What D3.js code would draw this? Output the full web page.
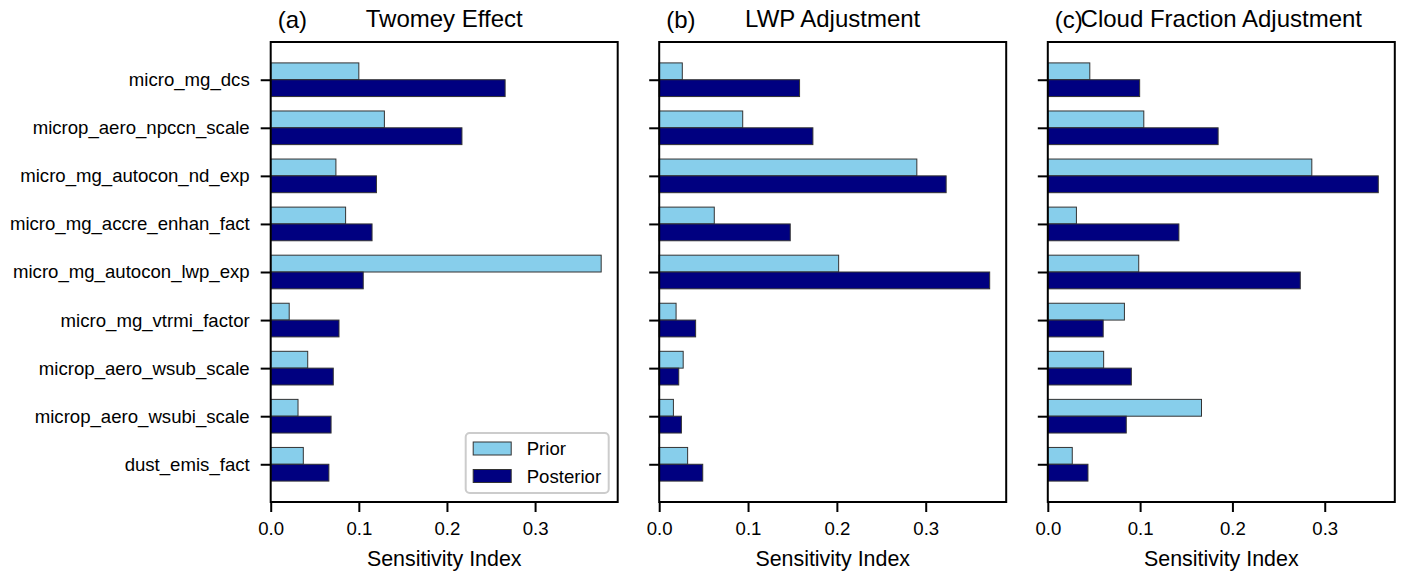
<!DOCTYPE html>
<html>
<head>
<meta charset="utf-8">
<script src="https://cdn.jsdelivr.net/npm/d3@7"></script>
<style>
  html, body { margin: 0; padding: 0; background: #fff; }
  svg { display: block; }
  text { font-family: "Liberation Sans", Arial, sans-serif; fill: #000; }
</style>
</head>
<body>
<svg id="chart" width="1403" height="572"></svg>
<script>
// ---------- data ----------
const categories = [
  "micro_mg_dcs",
  "microp_aero_npccn_scale",
  "micro_mg_autocon_nd_exp",
  "micro_mg_accre_enhan_fact",
  "micro_mg_autocon_lwp_exp",
  "micro_mg_vtrmi_factor",
  "microp_aero_wsub_scale",
  "microp_aero_wsubi_scale",
  "dust_emis_fact"
];
const seriesNames = ["Prior", "Posterior"];
const panelTags = ["(a)", "(b)", "(c)"];
const panelTitles = ["Twomey Effect", "LWP Adjustment", "Cloud Fraction Adjustment"];
const xTickValues = [0, 0.1, 0.2, 0.3];
const xLabel = "Sensitivity Index";

const twomeyPrior     = [0.100, 0.129, 0.074, 0.085, 0.375, 0.021, 0.042, 0.031, 0.037];
const twomeyPosterior = [0.266, 0.217, 0.120, 0.115, 0.105, 0.0775, 0.071, 0.0685, 0.066];
const lwpPrior        = [0.026, 0.094, 0.290, 0.062, 0.202, 0.019, 0.027, 0.016, 0.032];
const lwpPosterior    = [0.158, 0.173, 0.323, 0.1475, 0.372, 0.041, 0.022, 0.025, 0.049];
const cfPrior         = [0.0455, 0.104, 0.286, 0.031, 0.0985, 0.083, 0.0605, 0.1665, 0.0265];
const cfPosterior     = [0.0995, 0.1845, 0.358, 0.142, 0.2735, 0.060, 0.0905, 0.085, 0.0435];

const panelPrior = [twomeyPrior, lwpPrior, cfPrior];
const panelPosterior = [twomeyPosterior, lwpPosterior, cfPosterior];

// ---------- layout ----------
const colors = ["#87ceeb", "#000080"];
const barH = 0.35;
const lefts = [270.7, 659.2, 1047.8];
const panelW = 347;
const plotTop = 42, plotBottom = 502;
const FONT = '"Liberation Sans", Arial, sans-serif';
const tickFont = 18.6, labelFont = 21.4, titleFont = 24;

const svg = d3.select("#chart");
svg.append("rect").attr("width", 1403).attr("height", 572).attr("fill", "#fff");

const n = categories.length;
const yMargin = (n - 1 + 2 * barH) * 0.05;
const y = d3.scaleLinear()
  .domain([-barH - yMargin, n - 1 + barH + yMargin])
  .range([plotTop, plotBottom]);

panelPrior.forEach((prior, p) => {
  const post = panelPosterior[p];
  const maxV = d3.max(prior.concat(post));
  const x = d3.scaleLinear().domain([0, maxV * 1.05]).range([0, panelW]);
  const g = svg.append("g").attr("transform", `translate(${lefts[p]},0)`);

  const idx = d3.range(n);
  g.selectAll("rect.prior").data(idx).join("rect")
    .attr("class", "prior")
    .attr("x", x(0))
    .attr("y", i => y(i - barH))
    .attr("width", i => x(prior[i]) - x(0))
    .attr("height", i => y(i) - y(i - barH))
    .attr("fill", colors[0])
    .attr("stroke", "#333")
    .attr("stroke-width", 1);
  g.selectAll("rect.post").data(idx).join("rect")
    .attr("class", "post")
    .attr("x", x(0))
    .attr("y", i => y(i))
    .attr("width", i => x(post[i]) - x(0))
    .attr("height", i => y(i + barH) - y(i))
    .attr("fill", colors[1])
    .attr("stroke", "#333")
    .attr("stroke-width", 1);

  const xa = g.append("g").attr("transform", `translate(0,${plotBottom})`)
    .call(d3.axisBottom(x).tickValues(xTickValues).tickFormat(d3.format(".1f"))
      .tickSize(10).tickPadding(9.5));
  xa.select(".domain").remove();
  xa.selectAll(".tick line").attr("stroke", "#000").attr("stroke-width", 2);
  xa.selectAll(".tick text").attr("font-size", tickFont).attr("font-family", FONT).attr("fill", "#000");

  const ya = g.append("g")
    .call(d3.axisLeft(y).tickValues(idx).tickFormat(i => p === 0 ? categories[i] : "")
      .tickSize(10).tickPadding(11));
  ya.select(".domain").remove();
  ya.selectAll(".tick line").attr("stroke", "#000").attr("stroke-width", 2);
  ya.selectAll(".tick text").attr("font-size", tickFont).attr("font-family", FONT).attr("fill", "#000");

  g.append("rect").attr("x", 0).attr("y", plotTop).attr("width", panelW).attr("height", plotBottom - plotTop)
    .attr("fill", "none").attr("stroke", "#000").attr("stroke-width", 2);

  g.append("text").attr("x", panelW / 2).attr("y", 27).attr("text-anchor", "middle")
    .attr("font-size", titleFont).text(panelTitles[p]);
  g.append("text").attr("x", 7).attr("y", 27.5).attr("text-anchor", "start")
    .attr("font-size", titleFont).text(panelTags[p]);

  g.append("text").attr("x", panelW / 2).attr("y", 566).attr("text-anchor", "middle")
    .attr("font-size", labelFont).text(xLabel);

  if (p === 0) {
    const lw = 143, lh = 60;
    const lx = panelW - 9 - lw, ly = plotBottom - 9 - lh;
    const lg = g.append("g").attr("transform", `translate(${lx},${ly})`);
    lg.append("rect").attr("width", lw).attr("height", lh).attr("rx", 4)
      .attr("fill", "#fff").attr("fill-opacity", 0.8)
      .attr("stroke", "#cccccc").attr("stroke-width", 2);
    seriesNames.forEach((s, k) => {
      lg.append("rect").attr("x", 7.5).attr("y", 9 + k * 27.5).attr("width", 38).attr("height", 13)
        .attr("fill", colors[k]).attr("stroke", "#333").attr("stroke-width", 1);
      lg.append("text").attr("x", 61).attr("y", 22 + k * 27.5)
        .attr("font-size", tickFont).text(s);
    });
  }
});
</script>
</body>
</html>
